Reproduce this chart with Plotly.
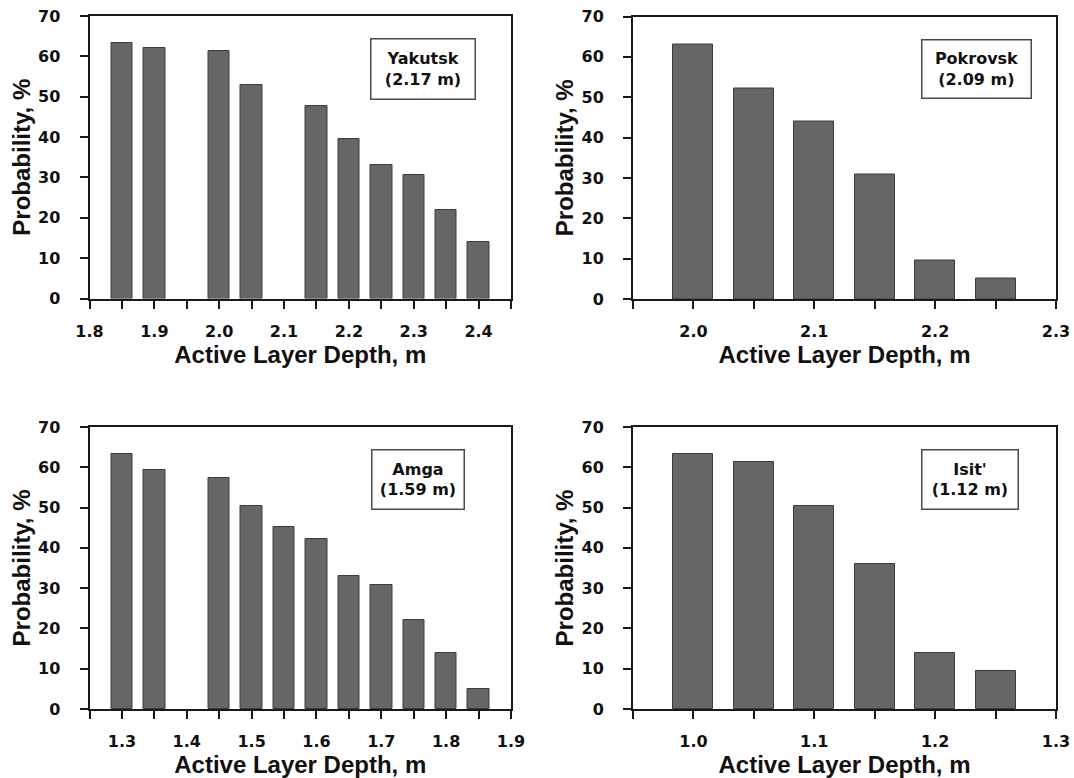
import plotly.graph_objects as go

FONT = "Liberation Sans, Arial, sans-serif"
WIDE = "DejaVu Sans, Verdana, sans-serif"

# ---- data ----
yak_x = [1.85, 1.90, 2.00, 2.05, 2.15, 2.20, 2.25, 2.30, 2.35, 2.40]
yak_y = [63.2, 62.1, 61.3, 52.8, 47.7, 39.4, 33.0, 30.6, 22.0, 13.9]

pok_x = [2.00, 2.05, 2.10, 2.15, 2.20, 2.25]
pok_y = [63.0, 52.2, 43.9, 30.8, 9.5, 5.0]

amg_x = [1.30, 1.35, 1.45, 1.50, 1.55, 1.60, 1.65, 1.70, 1.75, 1.80, 1.85]
amg_y = [63.3, 59.4, 57.3, 50.4, 45.1, 42.3, 33.1, 30.7, 22.1, 14.0, 4.9]

isi_x = [1.00, 1.05, 1.10, 1.15, 1.20, 1.25]
isi_y = [63.2, 61.2, 50.4, 36.1, 14.0, 9.5]

station_labels = ["Yakutsk<br>(2.17 m)", "Pokrovsk<br>(2.09 m)",
                  "Amga<br>(1.59 m)", "Isit'<br>(1.12 m)"]
x_title = "Active Layer Depth, m"
y_title = "Probability, %"

# ---- layout geometry (page pixels) ----
W, H = 1074, 778
panels = [
    dict(xr=[1.80, 2.45], l=89.5, r=511, t=16, b=298.5),
    dict(xr=[1.95, 2.30], l=633, r=1056, t=16.5, b=299),
    dict(xr=[1.25, 1.90], l=89.5, r=511, t=427, b=709),
    dict(xr=[0.95, 1.30], l=633, r=1056, t=427, b=709),
]
boxes = [  # centre x, centre y, width, height
    (423.4, 68.7, 105, 61),
    (976.0, 68.7, 110, 59),
    (417.5, 479.3, 93, 60),
    (969.5, 479.3, 97, 60),
]
xs = [yak_x, pok_x, amg_x, isi_x]
ys = [yak_y, pok_y, amg_y, isi_y]


def fx(px):
    return px / W


def fy(py):
    return 1 - py / H


AX = "#1a1a1a"
BAR = "#666666"
BAR_LINE = "#3c3c3c"

fig = go.Figure()
for i in range(4):
    n = "" if i == 0 else str(i + 1)
    fig.add_trace(go.Bar(
        x=xs[i], y=ys[i], width=0.033,
        marker=dict(color=BAR, line=dict(color=BAR_LINE, width=1)),
        xaxis="x" + n, yaxis="y" + n, showlegend=False,
    ))

layout = dict(
    template="none",
    width=W, height=H, autosize=False,
    margin=dict(l=0, r=0, t=0, b=0, autoexpand=False),
    paper_bgcolor="white", plot_bgcolor="white",
    font=dict(family=FONT, color="#111111"),
    showlegend=False,
    bargap=0,
)

tickfont = dict(family=WIDE, size=16, color="#111111", weight="bold")
titlefont = dict(family=FONT, size=24, color="#111111", weight="bold")

for i, p in enumerate(panels):
    n = "" if i == 0 else str(i + 1)
    xd = [fx(p["l"]), fx(p["r"])]
    yd = [fy(p["b"]), fy(p["t"])]
    layout["xaxis" + n] = dict(
        domain=xd, range=p["xr"], anchor="y" + n, automargin=False,
        showgrid=False, zeroline=False,
        showline=True, linecolor=AX, linewidth=2, mirror=True,
        ticks="outside", ticklen=8, tickwidth=2, tickcolor=AX,
        tick0=0, dtick=0.1, tickformat=".1f",
        minor=dict(dtick=0.05, tick0=0, ticks="outside", ticklen=8,
                   tickwidth=2, tickcolor=AX, showgrid=False),
        tickfont=tickfont, ticklabelstandoff=9,
        title=dict(text=x_title, font=titlefont, standoff=0),
    )
    layout["yaxis" + n] = dict(
        domain=yd, range=[0, 70], anchor="x" + n, automargin=False,
        showgrid=False, zeroline=False,
        showline=True, linecolor=AX, linewidth=2, mirror=True,
        ticks="outside", ticklen=8, tickwidth=2, tickcolor=AX,
        tick0=0, dtick=10,
        tickfont=tickfont, ticklabelstandoff=16,
        title=dict(text=y_title, font=titlefont, standoff=1),
    )
    m = str(i + 5)
    layout["xaxis" + m] = dict(
        overlaying="x" + n, side="top", anchor="y" + n, automargin=False,
        range=p["xr"], showgrid=False, zeroline=False, showline=False,
        ticks="inside", ticklen=8, tickwidth=2, tickcolor=AX,
        tick0=0, dtick=0.1, showticklabels=False,
        minor=dict(dtick=0.05, tick0=0, ticks="inside", ticklen=8,
                   tickwidth=2, tickcolor=AX, showgrid=False),
    )
    layout["yaxis" + m] = dict(
        overlaying="y" + n, side="right", anchor="x" + n, automargin=False,
        range=[0, 70], showgrid=False, zeroline=False, showline=False,
        ticks="inside", ticklen=8, tickwidth=2, tickcolor=AX,
        tick0=0, dtick=10, showticklabels=False,
    )

fig.update_layout(**layout)

for i, (cx, cy, bw, bh) in enumerate(boxes):
    fig.add_annotation(
        x=fx(cx), y=fy(cy), xref="paper", yref="paper",
        xanchor="center", yanchor="middle",
        text=station_labels[i], showarrow=False,
        width=bw - 4, height=bh - 4, align="center",
        font=dict(family=WIDE, size=16, color="#111111", weight="bold"),
        bordercolor="#4a4a4a", borderwidth=1.5, borderpad=1,
        bgcolor="white",
    )

fig.write_html("out.html")
